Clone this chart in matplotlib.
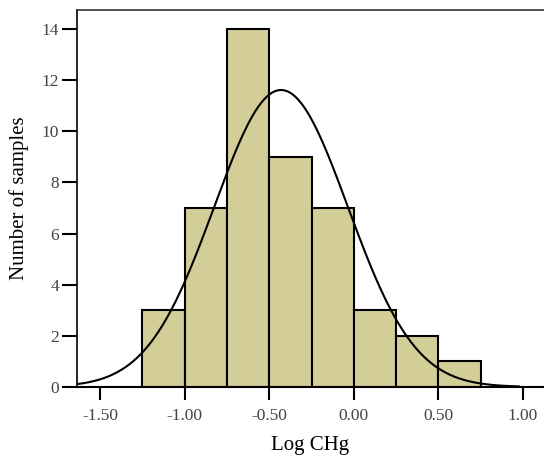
import numpy as np
import matplotlib.pyplot as plt

# histogram of Log CHg
bin_edges = [-1.25, -1.00, -0.75, -0.50, -0.25, 0.00, 0.25, 0.50, 0.75]
counts = [3, 7, 14, 9, 7, 3, 2, 1]

# fitted normal curve
fit_mean = -0.43
fit_sd = 0.395
curve_range = (-1.636, 0.975)

x_ticks = [-1.50, -1.00, -0.50, 0.00, 0.50, 1.00]
y_ticks = [0, 2, 4, 6, 8, 10, 12, 14]

plt.rcParams['font.family'] = ['Liberation Serif', 'DejaVu Serif']

fig = plt.figure(figsize=(5.44, 4.59), dpi=100)
ax = fig.add_axes([0.1415, 0.157, 0.8585, 0.821])

widths = np.diff(bin_edges)
ax.bar(bin_edges[:-1], counts, width=widths, align='edge',
       color='#d3ce98', edgecolor='black', linewidth=1.5, zorder=2)

# normal density scaled to counts
n = sum(counts)
bw = widths[0]
xs = np.linspace(curve_range[0], curve_range[1], 300)
ys = n * bw / (fit_sd * np.sqrt(2 * np.pi)) * np.exp(-0.5 * ((xs - fit_mean) / fit_sd) ** 2)
ax.plot(xs, ys, color='black', linewidth=1.5, zorder=3)

ax.set_xlim(-1.636, 1.124)
ax.set_ylim(0, 14.74)
ax.set_xticks(x_ticks)
ax.set_xticklabels([f"{v:.2f}" for v in x_ticks])
ax.set_yticks(y_ticks)
ax.tick_params(axis='x', direction='out', length=9, width=1.5, labelsize=12.5, pad=6, colors='black')
ax.tick_params(axis='y', direction='out', length=11, width=1.5, labelsize=12.5, pad=2, colors='black')
for lab in ax.get_xticklabels() + ax.get_yticklabels():
    lab.set_color('#444444')

ax.spines['right'].set_visible(False)
ax.spines['left'].set_linewidth(1.2)
ax.spines['bottom'].set_linewidth(1.5)
ax.spines['top'].set_linewidth(1.2)
ax.spines['top'].set_color('#333333')

ax.set_xlabel("Log CHg", fontsize=15, labelpad=9)
ax.set_ylabel("Number of samples", fontsize=15, labelpad=9)

fig.savefig("out.png", dpi=100)
